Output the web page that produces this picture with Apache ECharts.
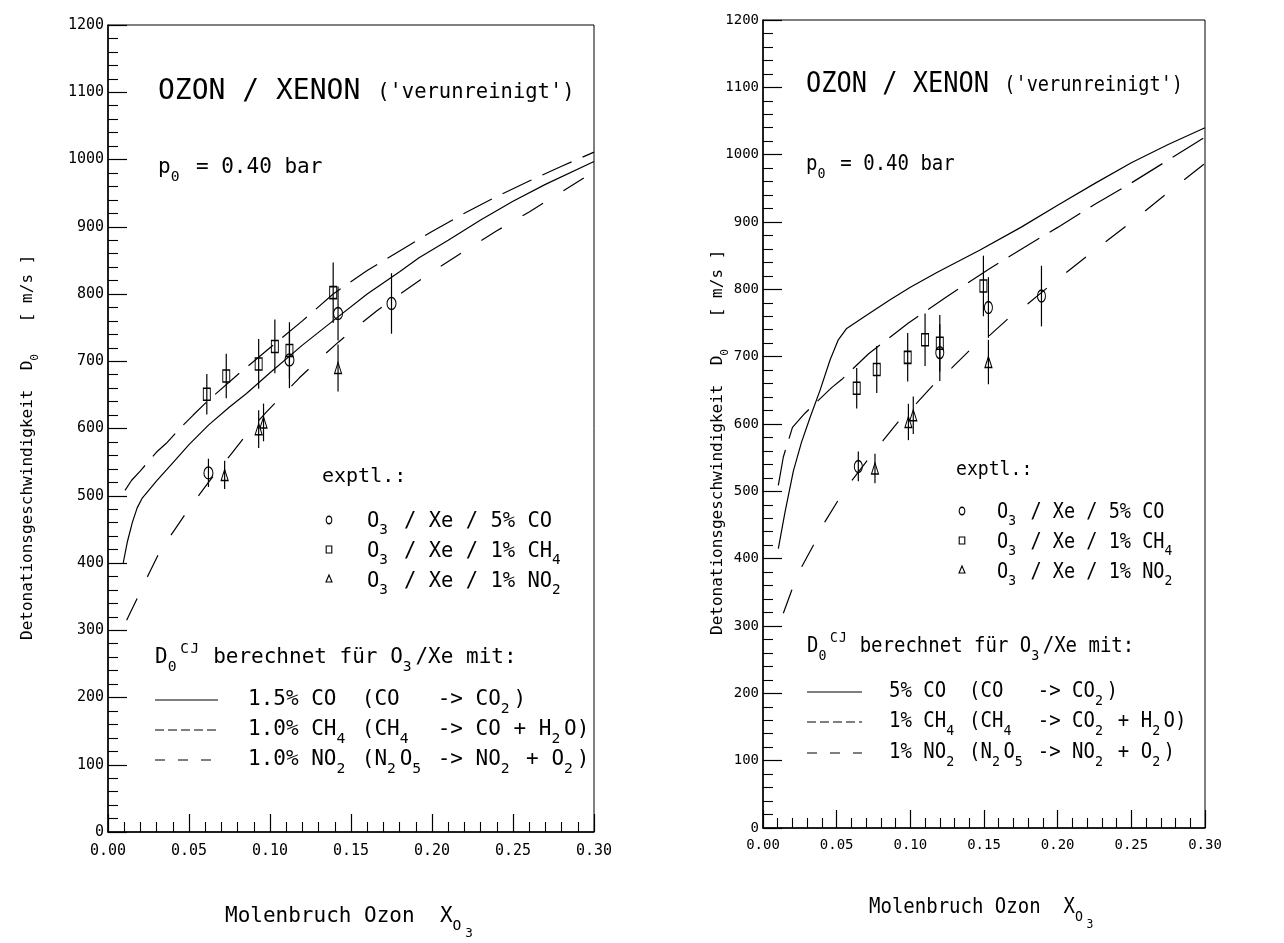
<!DOCTYPE html>
<html>
<head>
<meta charset="utf-8">
<script src="https://cdn.jsdelivr.net/npm/echarts@6/dist/echarts.min.js"></script>
<style>
  html, body { margin: 0; padding: 0; background: #fff; }
  #chart { width: 1284px; height: 943px; }
</style>
</head>
<body>
<div id="chart"></div>
<script>
// ---------- axis labelling ----------
const xTickLabels = ['0.00', '0.05', '0.10', '0.15', '0.20', '0.25', '0.30'];
const xStep = 0.05;
const yMax = 1200;
const yStep = 100;

// ---------- left panel: measurements (x = mole fraction ozone, D0 in m/s, half error bar) ----------
const leftCoX = [0.062, 0.112, 0.142, 0.175];
const leftCoD = [534, 702, 771, 786];
const leftCoErr = [21, 42, 40, 45];
const leftCh4X = [0.061, 0.073, 0.093, 0.103, 0.112, 0.139];
const leftCh4D = [651, 678, 696, 722, 716, 802];
const leftCh4Err = [30, 33, 37, 40, 42, 45];
const leftNo2X = [0.072, 0.093, 0.096, 0.142];
const leftNo2D = [531, 599, 609, 690];
const leftNo2Err = [21, 28, 28, 35];

// ---------- left panel: computed CJ velocities ----------
const leftCoLineX = [0.0094, 0.012, 0.015, 0.018, 0.021, 0.030, 0.040, 0.050, 0.062, 0.075, 0.0855, 0.100, 0.120, 0.142, 0.160, 0.180, 0.192, 0.210, 0.230, 0.250, 0.270, 0.300];
const leftCoLineD = [400, 432, 460, 482, 496, 522, 549, 576, 605, 632, 652, 683, 724, 766, 800, 833, 854, 880, 910, 938, 963, 997];
const leftCh4LineX = [0.0105, 0.0146, 0.020, 0.030, 0.036, 0.0443, 0.0526, 0.062, 0.080, 0.100, 0.120, 0.139, 0.160, 0.180, 0.200, 0.220, 0.240, 0.260, 0.280, 0.300];
const leftCh4LineD = [508, 523, 537, 565, 578, 600, 620, 642, 680, 720, 760, 800, 835, 864, 893, 920, 945, 968, 990, 1011];
const leftNo2LineX = [0.0115, 0.020, 0.025, 0.032, 0.041, 0.050, 0.062, 0.076, 0.0875, 0.098, 0.108, 0.118, 0.130, 0.142, 0.154, 0.166, 0.179, 0.200, 0.220, 0.240, 0.260, 0.280, 0.300];
const leftNo2LineD = [315, 357, 383, 417, 449, 481, 520, 562, 597, 625, 650, 675, 702, 728, 752, 775, 798, 833, 864, 894, 922, 952, 982];

// ---------- right panel: measurements ----------
const rightCoX = [0.0647, 0.120, 0.153, 0.189];
const rightCoD = [537, 706, 773, 790];
const rightCoErr = [22, 42, 45, 45];
const rightCh4X = [0.0636, 0.0772, 0.0982, 0.110, 0.120, 0.1496];
const rightCh4D = [653, 681, 699, 725, 720, 805];
const rightCh4Err = [30, 35, 36, 39, 42, 45];
const rightNo2X = [0.076, 0.0987, 0.102, 0.153];
const rightNo2D = [534, 603, 613, 692];
const rightNo2Err = [22, 27, 28, 33];

// ---------- right panel: computed CJ velocities ----------
const rightCoLineX = [0.0104, 0.015, 0.0206, 0.026, 0.032, 0.0387, 0.0455, 0.0511, 0.0568, 0.070, 0.086, 0.100, 0.118, 0.147, 0.175, 0.200, 0.225, 0.250, 0.275, 0.300];
const rightCoLineD = [415, 470, 530, 572, 610, 650, 695, 725, 742, 761, 784, 803, 825, 858, 892, 925, 957, 988, 1015, 1040];
const rightCh4LineX = [0.0104, 0.0138, 0.020, 0.0285, 0.0466, 0.0534, 0.0715, 0.0987, 0.1247, 0.154, 0.180, 0.200, 0.225, 0.250, 0.275, 0.300];
const rightCh4LineD = [509, 551, 595, 616, 654, 666, 704, 750, 789, 831, 866, 892, 926, 958, 992, 1026];
const rightNo2LineX = [0.0138, 0.0195, 0.0263, 0.0342, 0.0421, 0.0511, 0.0613, 0.0704, 0.0817, 0.092, 0.1043, 0.1156, 0.128, 0.1405, 0.154, 0.1666, 0.180, 0.200, 0.225, 0.250, 0.275, 0.300];
const rightNo2LineD = [319, 353, 388, 420, 455, 487, 519, 545, 576, 604, 631, 658, 683, 710, 732, 757, 779, 815, 858, 900, 944, 987];

// ---------- text ----------
const titleMain = 'OZON / XENON';
const titleNote = "('verunreinigt')";
const pressureText = 'p_{0} = 0.40 bar';
const exptText = 'exptl.:';
const exptRows = ['O_{3} / Xe / 5% CO', 'O_{3} / Xe / 1% CH_{4}', 'O_{3} / Xe / 1% NO_{2}'];
const calcHead = 'D_{0}^{CJ} berechnet für O_{3}/Xe mit:';
const leftCalcRows = ['1.5% CO  (CO   -> CO_{2})', '1.0% CH_{4} (CH_{4}  -> CO + H_{2}O)', '1.0% NO_{2} (N_{2}O_{5} -> NO_{2} + O_{2})'];
const rightCalcRows = ['5% CO  (CO   -> CO_{2})', '1% CH_{4} (CH_{4}  -> CO_{2} + H_{2}O)', '1% NO_{2} (N_{2}O_{5} -> NO_{2} + O_{2})'];
const yTitle = 'Detonationsgeschwindigkeit  D_{0}   [ m/s ]';
const xTitle = 'Molenbruch Ozon  X_{O}~{3}';

const FONT = '"DejaVu Sans Mono", monospace';
const INK = '#000';

// Split markup into characters with level: 0 normal, 1 subscript, 2 second-level subscript, -1 superscript
function parseMarkup(str) {
  const out = [];
  let i = 0;
  while (i < str.length) {
    const c = str[i];
    if ((c === '_' || c === '^' || c === '~') && str[i + 1] === '{') {
      const end = str.indexOf('}', i);
      const lvl = c === '_' ? 1 : (c === '~' ? 2 : -1);
      for (const ch of str.slice(i + 2, end)) out.push({ ch, lvl });
      i = end + 1;
    } else {
      out.push({ ch: c, lvl: 0 });
      i++;
    }
  }
  return out;
}

// Plotter-style text: characters advance in fixed-width cells
function plotterText(x, y, str, size, sx) {
  sx = sx || 1;
  const cw = size * 0.602 * sx;
  const els = [];
  let cx = x;
  parseMarkup(str).forEach(t => {
    let fs = size, dy = 0, adv = 1;
    if (t.lvl === 1) { fs = size * 0.7; dy = size * 0.42; }
    else if (t.lvl === 2) { fs = size * 0.6; dy = size * 0.78; }
    else if (t.lvl === -1) { fs = size * 0.68; dy = -size * 0.42; adv = 0.8; }
    if (t.ch !== ' ') {
      els.push({
        type: 'text', x: cx, y: y + dy, scaleX: sx, silent: true,
        style: {
          text: t.ch, font: fs.toFixed(1) + 'px ' + FONT, fill: INK,
          align: 'left', verticalAlign: 'middle',
          textAlign: 'left', textVerticalAlign: 'middle'
        }
      });
    }
    cx += cw * adv;
  });
  return els;
}

function zip(xs, ys) { return xs.map((x, i) => [x, ys[i]]); }

function lineSeries(name, xs, ys, gi, dash) {
  return {
    name, type: 'line', xAxisIndex: gi, yAxisIndex: gi,
    data: zip(xs, ys), showSymbol: false, symbol: 'none', smooth: false,
    lineStyle: { color: INK, width: 1.2, type: dash || 'solid' },
    silent: true, z: 2
  };
}

function errorBars(name, xs, ds, errs, gi) {
  return {
    name, type: 'custom', xAxisIndex: gi, yAxisIndex: gi,
    data: xs.map((x, i) => [x, ds[i] - errs[i], ds[i] + errs[i]]),
    encode: { x: 0, y: [1, 2] },
    renderItem: (params, api) => {
      const a = api.coord([api.value(0), api.value(1)]);
      const b = api.coord([api.value(0), api.value(2)]);
      return { type: 'line', shape: { x1: a[0], y1: a[1], x2: b[0], y2: b[1] },
               style: { stroke: INK, lineWidth: 1.2 } };
    },
    silent: true, z: 3
  };
}

function markers(name, xs, ds, gi, symbol, size) {
  return {
    name, type: 'scatter', xAxisIndex: gi, yAxisIndex: gi,
    data: zip(xs, ds), symbol, symbolSize: size,
    itemStyle: { color: 'rgba(255,255,255,0)', borderColor: INK, borderWidth: 1.2, opacity: 1 },
    silent: true, z: 4
  };
}

function xAxisCfg(gi, fontSize, margin) {
  return {
    type: 'value', gridIndex: gi, min: 0, max: 0.3, interval: xStep,
    axisLine: { show: true, onZero: false, lineStyle: { color: INK, width: 1.5 } },
    axisTick: { show: true, inside: true, length: 18, lineStyle: { color: INK, width: 1.2 } },
    minorTick: { show: true, splitNumber: 5, length: 10, lineStyle: { color: INK, width: 1.1 } },
    splitLine: { show: false }, minorSplitLine: { show: false },
    axisLabel: { color: INK, fontFamily: FONT, fontSize, margin,
                 formatter: v => xTickLabels[Math.round(v / xStep)] }
  };
}

function yAxisCfg(gi, fontSize) {
  return {
    type: 'value', gridIndex: gi, min: 0, max: yMax, interval: yStep,
    axisLine: { show: true, onZero: false, lineStyle: { color: INK, width: 1.5 } },
    axisTick: { show: true, inside: true, length: 19, lineStyle: { color: INK, width: 1.2 } },
    minorTick: { show: true, splitNumber: 5, length: 10, lineStyle: { color: INK, width: 1.1 } },
    splitLine: { show: false }, minorSplitLine: { show: false },
    axisLabel: { color: INK, fontFamily: FONT, fontSize, margin: 4,
                 formatter: v => String(Math.round(v)) }
  };
}

// Annotation block of one panel
function panelText(p) {
  const sx = p.sx;
  let els = [];
  els = els.concat(plotterText(p.titleX, p.titleY, titleMain, 28, sx));
  els = els.concat(plotterText(p.titleX + 13 * 28 * 0.602 * sx, p.titleY + 1, titleNote, 20.5, sx));
  els = els.concat(plotterText(p.titleX, p.pY, pressureText, 21, sx));
  els = els.concat(plotterText(p.exX, p.exY, exptText, 20, sx));
  exptRows.forEach((r, i) => {
    els = els.concat(plotterText(p.rowTextX, p.rowY[i], r, 20.5, sx));
  });
  // marker samples for the measured series
  const mx = p.symX;
  els.push({ type: 'circle', x: mx, y: p.rowY[0] - 2, scaleY: 1.35, silent: true,
             shape: { cx: 0, cy: 0, r: 2.8 }, style: { fill: 'none', stroke: INK, lineWidth: 1.1 } });
  els.push({ type: 'rect', x: mx - 2.8, y: p.rowY[1] - 6, silent: true,
             shape: { x: 0, y: 0, width: 5.6, height: 7 }, style: { fill: 'none', stroke: INK, lineWidth: 1.1 } });
  els.push({ type: 'polygon', x: mx, y: p.rowY[2] - 3, silent: true,
             shape: { points: [[0, -4], [3, 3], [-3, 3]] }, style: { fill: 'none', stroke: INK, lineWidth: 1.1 } });
  els = els.concat(plotterText(p.headX, p.headY, calcHead, 21, sx));
  const dashes = [null, [9, 4], [10, 13]];
  p.calcRows.forEach((r, i) => {
    els.push({ type: 'line', silent: true,
               shape: { x1: p.headX, y1: p.calcY[i], x2: p.sampleEnd, y2: p.calcY[i] },
               style: { stroke: INK, lineWidth: 1.2, lineDash: dashes[i] } });
    els = els.concat(plotterText(p.calcTextX, p.calcY[i], r, 21, sx));
  });
  els = els.concat(plotterText(p.xtX, p.xtY, xTitle, 21, sx));
  els.push({ type: 'group', x: p.ytX, y: p.ytY, rotation: Math.PI / 2,
             children: plotterText(0, 0, yTitle, 16, 1) });
  return els;
}

const leftPanel = {
  sx: 1, titleX: 158, titleY: 92, pY: 168,
  exX: 322, exY: 477, symX: 329, rowTextX: 367, rowY: [522, 552, 582],
  headX: 155, headY: 658, sampleEnd: 218, calcTextX: 248, calcY: [700, 730, 760],
  calcRows: leftCalcRows,
  xtX: 225, xtY: 917, ytX: 28, ytY: 640
};
const rightPanel = {
  sx: 0.905, titleX: 806, titleY: 85, pY: 165,
  exX: 956, exY: 470, symX: 962, rowTextX: 997, rowY: [513, 543, 573],
  headX: 807, headY: 647, sampleEnd: 862, calcTextX: 889, calcY: [692, 722, 753],
  calcRows: rightCalcRows,
  xtX: 869, xtY: 908, ytX: 718, ytY: 635
};

const chart = echarts.init(document.getElementById('chart'), null, { renderer: 'canvas' });
chart.setOption({
  animation: false,
  backgroundColor: '#fff',
  grid: [
    { left: 108, top: 25, width: 486, height: 807, show: true, borderColor: INK, borderWidth: 1, backgroundColor: 'transparent' },
    { left: 763, top: 20, width: 442, height: 808, show: true, borderColor: INK, borderWidth: 1, backgroundColor: 'transparent' }
  ],
  xAxis: [xAxisCfg(0, 15, 12), xAxisCfg(1, 14, 10)],
  yAxis: [yAxisCfg(0, 15), yAxisCfg(1, 14)],
  series: [
    lineSeries('CO 1.5%', leftCoLineX, leftCoLineD, 0),
    lineSeries('CH4 1.0%', leftCh4LineX, leftCh4LineD, 0, [32, 12]),
    lineSeries('NO2 1.0%', leftNo2LineX, leftNo2LineD, 0, [24, 24]),
    errorBars('CO err', leftCoX, leftCoD, leftCoErr, 0),
    errorBars('CH4 err', leftCh4X, leftCh4D, leftCh4Err, 0),
    errorBars('NO2 err', leftNo2X, leftNo2D, leftNo2Err, 0),
    markers('O3/Xe/5% CO', leftCoX, leftCoD, 0, 'circle', [9, 12]),
    markers('O3/Xe/1% CH4', leftCh4X, leftCh4D, 0, 'rect', [7, 12]),
    markers('O3/Xe/1% NO2', leftNo2X, leftNo2D, 0, 'triangle', [7, 11]),

    lineSeries('CO 5%', rightCoLineX, rightCoLineD, 1),
    lineSeries('CH4 1%', rightCh4LineX, rightCh4LineD, 1, [36, 12]),
    lineSeries('NO2 1%', rightNo2LineX, rightNo2LineD, 1, [25, 25]),
    errorBars('CO err r', rightCoX, rightCoD, rightCoErr, 1),
    errorBars('CH4 err r', rightCh4X, rightCh4D, rightCh4Err, 1),
    errorBars('NO2 err r', rightNo2X, rightNo2D, rightNo2Err, 1),
    markers('O3/Xe/5% CO r', rightCoX, rightCoD, 1, 'circle', [8, 12]),
    markers('O3/Xe/1% CH4 r', rightCh4X, rightCh4D, 1, 'rect', [7, 12]),
    markers('O3/Xe/1% NO2 r', rightNo2X, rightNo2D, 1, 'triangle', [7, 11])
  ],
  graphic: panelText(leftPanel).concat(panelText(rightPanel))
});
</script>
</body>
</html>
